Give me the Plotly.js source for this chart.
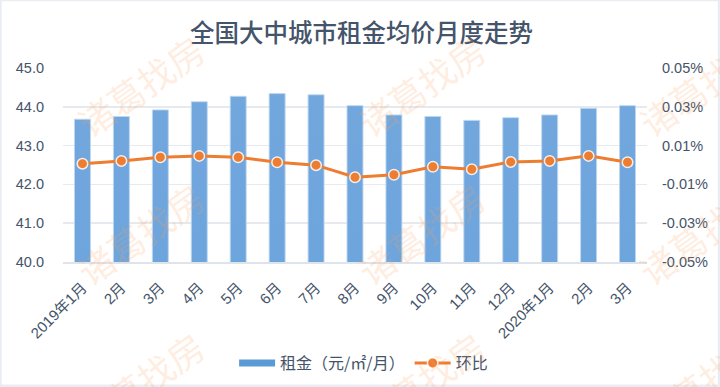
<!DOCTYPE html>
<html>
<head>
<meta charset="utf-8">
<script src="https://cdn.plot.ly/plotly-3.0.1.min.js"></script>
<style>
  html, body { margin: 0; padding: 0; background: #ffffff; }
  #chart { width: 720px; height: 387px; }
</style>
</head>
<body>
<div id="chart"></div>
<script>
// ---- data ----
const categories = ['2019年1月','2月','3月','4月','5月','6月','7月','8月','9月','10月','11月','12月','2020年1月','2月','3月'];
const rent = [43.68, 43.75, 43.92, 44.13, 44.27, 44.34, 44.31, 44.03, 43.79, 43.75, 43.65, 43.72, 43.79, 43.96, 44.03];
const mom = [0.0007, 0.0021, 0.0040, 0.0047, 0.0040, 0.0014, -0.0001, -0.0063, -0.0050, -0.0009, -0.0022, 0.0016, 0.0021, 0.0047, 0.0014];
const leftTickVals = [40, 41, 42, 43, 44, 45];
const rightTickVals = [-0.05, -0.03, -0.01, 0.01, 0.03, 0.05];
const rightTickLabels = ['-0.05%', '-0.03%', '-0.01%', '0.01%', '0.03%', '0.05%'];
const rentName = '租金（元/㎡/月）';
const momName = '环比';
const titleText = '全国大中城市租金均价月度走势';
const watermark = '诸葛找房';

const xIdx = categories.map((c, i) => i);

const textColor = '#44546a';
const fontFam = '"Liberation Sans", Arial, "Noto Sans CJK SC", sans-serif';
const cjkFam = '"Noto Sans CJK SC", "Liberation Sans", sans-serif';

const traces = [
  {
    type: 'bar', x: xIdx, y: rent, name: rentName, showlegend: false,
    marker: { color: '#5b9bd5', line: { color: 'rgba(190,215,240,0.9)', width: 1 } },
    hoverinfo: 'skip'
  },
  {
    type: 'scatter', mode: 'lines', x: [null], y: [null], name: rentName,
    line: { color: '#5b9bd5', width: 7 }, showlegend: true, hoverinfo: 'skip'
  },
  {
    type: 'scatter', mode: 'lines+markers', x: xIdx, y: mom, name: momName, yaxis: 'y2',
    line: { color: '#ed7d31', width: 3 },
    marker: { color: '#ed7d31', size: 10.5, line: { color: 'rgba(255,255,255,0.85)', width: 1.5 } },
    hoverinfo: 'skip'
  }
];

// watermark grid (pixel centres -> paper coords)
const plotL = 63, plotR = 647, plotT = 68.3, plotB = 261.7;
const pw = plotR - plotL, ph = plotB - plotT;
const wmX = [140, 421, 702];
const wmY = [85, 233, 381];
const annotations = [];
wmX.forEach(px => wmY.forEach(py => {
  annotations.push({
    text: watermark, xref: 'paper', yref: 'paper',
    x: (px - plotL) / pw, y: (plotB - py) / ph,
    xanchor: 'center', yanchor: 'middle',
    showarrow: false, textangle: -35,
    font: { family: cjkFam, size: 36, color: 'rgba(250,160,90,0.2)' }
  });
}));

const layout = {
  width: 720, height: 387,
  margin: { l: plotL, r: 720 - plotR, t: plotT, b: 387 - plotB, pad: 0 },
  paper_bgcolor: '#ffffff', plot_bgcolor: '#ffffff',
  title: {
    text: titleText, xref: 'container', x: 0.502, xanchor: 'center',
    yref: 'container', y: 1 - 33 / 387, yanchor: 'middle',
    font: { family: cjkFam, size: 24.5, color: textColor, weight: 500 }
  },
  bargap: 0.59,
  showlegend: true,
  legend: {
    orientation: 'h', xref: 'container', yref: 'container',
    x: 0.505, xanchor: 'center', y: (387 - 363) / 387, yanchor: 'middle',
    font: { family: cjkFam, size: 16, color: textColor },
    bgcolor: 'rgba(0,0,0,0)', itemwidth: 36, tracegroupgap: 0
  },
  xaxis: {
    range: [-0.5, categories.length - 0.5],
    tickmode: 'array', tickvals: xIdx, ticktext: categories,
    tickangle: -45, ticks: '', showgrid: false, zeroline: false,
    showline: true, linecolor: '#dfe4ea', linewidth: 2,
    tickfont: { family: fontFam, size: 15, color: textColor },
    ticklabelstandoff: 9, fixedrange: true
  },
  yaxis: {
    range: [40, 45], tickmode: 'array', tickvals: leftTickVals,
    tickformat: '.1f', ticks: '', showgrid: true, gridcolor: '#e6e9ee', gridwidth: 1.5,
    zeroline: false, showline: false,
    tickfont: { family: fontFam, size: 14.5, color: textColor },
    ticklabelstandoff: 18, fixedrange: true
  },
  yaxis2: {
    overlaying: 'y', side: 'right', range: [-0.05, 0.05],
    tickmode: 'array', tickvals: rightTickVals, ticktext: rightTickLabels,
    ticks: '', showgrid: false, zeroline: false, showline: false,
    tickfont: { family: fontFam, size: 14.5, color: textColor },
    ticklabelstandoff: 14, fixedrange: true
  },
  annotations: annotations,
  shapes: [{
    type: 'rect', xref: 'paper', yref: 'paper',
    x0: (0.5 - plotL) / pw, x1: (719 - plotL) / pw,
    y0: (plotB - 385) / ph, y1: (plotB - 0.5) / ph,
    line: { color: '#e9edf2', width: 2.5 }, fillcolor: 'rgba(0,0,0,0)', layer: 'below'
  }]
};

Plotly.newPlot('chart', traces, layout, { staticPlot: true, displayModeBar: false }).then(gd => {
  // apply a vertical gradient to the bars (Excel-like)
  const svgNS = 'http://www.w3.org/2000/svg';
  const defs = gd.querySelector('.main-svg defs');
  if (defs) {
    const g = document.createElementNS(svgNS, 'linearGradient');
    g.setAttribute('id', 'barGrad');
    g.setAttribute('x1', '0'); g.setAttribute('y1', '0');
    g.setAttribute('x2', '0'); g.setAttribute('y2', '1');
    [['0%', '#72a7dd'], ['50%', '#579bdb'], ['100%', '#3f86c9']].forEach(([o, c]) => {
      const s = document.createElementNS(svgNS, 'stop');
      s.setAttribute('offset', o); s.setAttribute('stop-color', c);
      g.appendChild(s);
    });
    defs.appendChild(g);
    gd.querySelectorAll('.barlayer .point path').forEach(p => { p.style.fill = 'url(#barGrad)'; });
  }
});
</script>
</body>
</html>
